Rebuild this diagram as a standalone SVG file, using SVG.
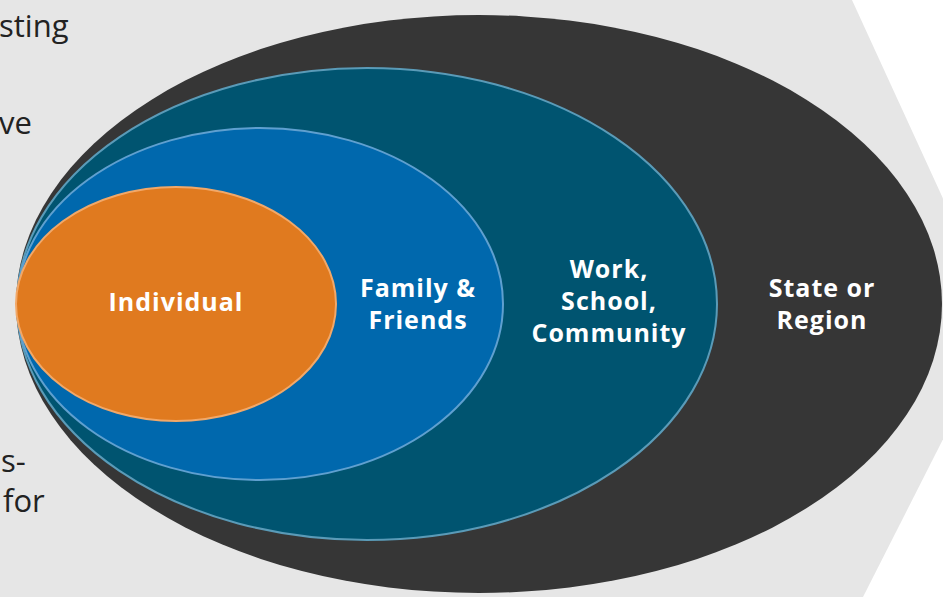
<svg xmlns="http://www.w3.org/2000/svg" width="943" height="597" viewBox="0 0 943 597">
  <style>
    .lbl { font-family: "Open Sans", "Liberation Sans", sans-serif; font-weight: 700; font-size: 25px; letter-spacing: 1px; fill: #ffffff; text-anchor: middle; }
    .side { font-family: "Open Sans", "Liberation Sans", sans-serif; font-size: 31px; fill: #222222; }
  </style>
  <rect x="0" y="0" width="943" height="597" fill="#ffffff"/>
  <!-- chevron backdrop -->
  <polygon points="0,0 852,0 1001,325 863,597 0,597" fill="#e6e6e6"/>

  <!-- cut-off paragraph text at the left -->
  <g id="side-text">
    <text class="side" x="-1" y="37">sting</text>
    <text class="side" x="-1" y="134">ve</text>
    <text class="side" x="1" y="472">s-</text>
    <text class="side" x="3" y="512">for</text>
  </g>

  <g id="state-region">
    <ellipse cx="479" cy="304" rx="463" ry="289" fill="#363636"/>
    <text class="lbl" x="822" y="297">State or</text>
    <text class="lbl" x="822" y="329">Region</text>
  </g>
  <g id="work-school-community">
    <ellipse cx="367" cy="304" rx="350" ry="236" fill="#005470" stroke="#5a9bb8" stroke-width="2"/>
    <text class="lbl" x="609" y="278">Work,</text>
    <text class="lbl" x="609" y="310">School,</text>
    <text class="lbl" x="609" y="342">Community</text>
  </g>
  <g id="family-friends">
    <ellipse cx="260" cy="304" rx="243" ry="176" fill="#0068ad" stroke="#5fa0d0" stroke-width="2"/>
    <text class="lbl" x="418" y="297">Family &amp;</text>
    <text class="lbl" x="418" y="329">Friends</text>
  </g>
  <g id="individual">
    <ellipse cx="176" cy="304" rx="160" ry="117" fill="#e07a1f" stroke="#f2a868" stroke-width="2"/>
    <text class="lbl" x="176" y="311">Individual</text>
  </g>
</svg>
